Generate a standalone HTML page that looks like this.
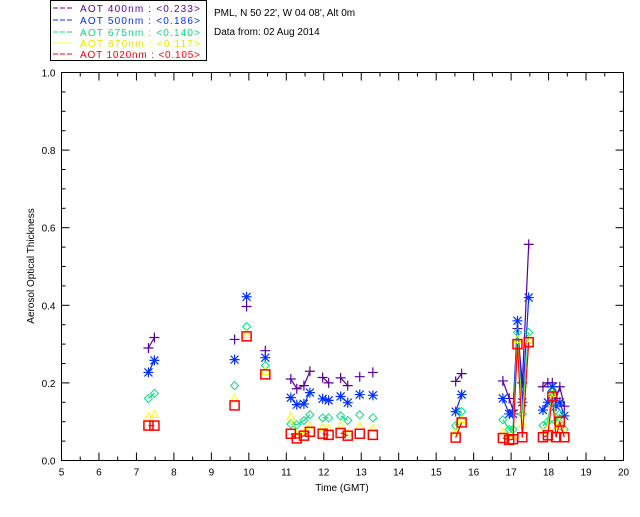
<!DOCTYPE html>
<html><head><meta charset="utf-8"><style>
body{margin:0;background:#fff;}
svg text{font-family:"Liberation Sans",sans-serif;font-size:10px;}
</style></head><body>
<svg id="chart" width="640" height="512" xmlns="http://www.w3.org/2000/svg">
<rect width="640" height="512" fill="#fff"/>
<g>
<rect x="50.5" y="0.5" width="156" height="60" fill="none" stroke="#000"/>
<g><line x1="53" y1="8" x2="73" y2="8" stroke="#5a00a0" stroke-dasharray="5,2"/><text x="80" y="12" fill="#5a00a0" textLength="120" lengthAdjust="spacing">AOT  400nm : &lt;0.233&gt;</text></g>
<g><line x1="53" y1="20" x2="73" y2="20" stroke="#0030ff" stroke-dasharray="5,2"/><text x="80" y="24" fill="#0030ff" textLength="120" lengthAdjust="spacing">AOT  500nm : &lt;0.186&gt;</text></g>
<g><line x1="53" y1="32" x2="73" y2="32" stroke="#00e080" stroke-dasharray="5,2"/><text x="80" y="36" fill="#00e080" textLength="120" lengthAdjust="spacing">AOT  675nm : &lt;0.140&gt;</text></g>
<g><line x1="53" y1="43" x2="73" y2="43" stroke="#ffff00" stroke-dasharray="5,2"/><text x="80" y="47" fill="#e8e800" textLength="120" lengthAdjust="spacing">AOT  870nm : &lt;0.117&gt;</text></g>
<g><line x1="53" y1="54" x2="73" y2="54" stroke="#ff0000" stroke-dasharray="5,2"/><text x="80" y="58" fill="#ff0000" textLength="120" lengthAdjust="spacing">AOT 1020nm : &lt;0.105&gt;</text></g>
</g>
<text x="214" y="16">PML, N 50 22', W 04 08', Alt 0m</text>
<text x="214" y="35">Data from: 02 Aug 2014</text>
<rect x="61.5" y="72.5" width="562" height="388" fill="none" stroke="#000"/>
<g id="axes"></g>
<g id="series"></g>
<text transform="translate(34,266) rotate(-90)" text-anchor="middle" font-size="9">Aerosol Optical Thickness</text>
<text x="342" y="491" text-anchor="middle">Time (GMT)</text>
</svg>
<script>
const times = [7.32,7.48, 9.62,9.94,10.44, 11.12,11.28,11.47,11.63,11.97,12.13,12.45,12.64,12.96,13.31, 15.52,15.68, 16.78,16.95,17.05,17.17,17.3,17.47,17.85,17.98,18.1,18.2,18.3,18.42];
const aot400 = [0.29,0.317, 0.312,0.397,0.283, 0.21,0.185,0.193,0.23,0.214,0.2,0.213,0.193,0.216,0.227, 0.204,0.224, 0.205,0.16,0.13,0.34,0.2,0.557,0.19,0.2,0.2,0.16,0.19,0.14];
const aot500 = [0.227,0.258, 0.26,0.422,0.265, 0.162,0.144,0.146,0.175,0.159,0.155,0.165,0.149,0.17,0.168, 0.126,0.17, 0.16,0.12,0.12,0.36,0.15,0.42,0.13,0.15,0.19,0.14,0.15,0.115];
const aot675 = [0.16,0.173, 0.193,0.345,0.245, 0.094,0.092,0.103,0.118,0.11,0.11,0.115,0.103,0.118,0.11, 0.09,0.126, 0.105,0.08,0.08,0.33,0.12,0.33,0.09,0.1,0.175,0.1,0.12,0.08];
const aot870 = [0.11,0.116, 0.157,0.322,0.227, 0.11,0.064,0.073,0.086,0.082,0.08,0.086,0.069,0.086,0.08, 0.07,0.103, 0.07,0.06,0.06,0.31,0.09,0.31,0.07,0.08,0.17,0.08,0.1,0.07];
const aot1020 = [0.09,0.09, 0.142,0.32,0.222, 0.069,0.057,0.064,0.074,0.069,0.066,0.071,0.064,0.069,0.066, 0.059,0.098, 0.058,0.053,0.055,0.3,0.06,0.305,0.06,0.065,0.165,0.06,0.1,0.06];
const xTicks = [5,6,7,8,9,10,11,12,13,14,15,16,17,18,19,20];
const yTicks = ["0.0","0.2","0.4","0.6","0.8","1.0"];

const NS="http://www.w3.org/2000/svg";
const X0=61.5,X1=623.5,Y0=460.5,Y1=72.5;
function xs(h){return X0+(h-5)/15*(X1-X0);}
function ys(v){return Y0-v*(Y0-Y1);}
function mk(tag,attrs,parent){const e=document.createElementNS(NS,tag);for(const k in attrs)e.setAttribute(k,attrs[k]);parent.appendChild(e);return e;}
const axes=document.getElementById('axes');
xTicks.forEach(t=>{
  const x=xs(t);
  const l=mk('line',{x1:x,y1:Y0,x2:x,y2:Y0-8,stroke:'#000'},axes);
  
  
  const l2=mk('line',{x1:x,y1:Y1,x2:x,y2:Y1+8,stroke:'#000'},axes);
  
  
  const tx=mk('text',{x:x,y:Y0+15,'text-anchor':'middle'},axes);tx.textContent=t;
  
  
  if(t<20){const m=xs(t+0.5);
    const ml=mk('line',{x1:m,y1:Y0,x2:m,y2:Y0-4,stroke:'#000'},axes);
    
    
    const ml2=mk('line',{x1:m,y1:Y1,x2:m,y2:Y1+4,stroke:'#000'},axes);
    
    }
});
yTicks.forEach(t=>{
  const v=parseFloat(t),y=ys(v);
  const l=mk('line',{x1:X0,y1:y,x2:X0+8,y2:y,stroke:'#000'},axes);
  
  
  const l2=mk('line',{x1:X1,y1:y,x2:X1-8,y2:y,stroke:'#000'},axes);
  
  
  const tx=mk('text',{x:X0-6,y:y+4,'text-anchor':'end'},axes);tx.textContent=t;
  
  
  if(v<1){for(let k=1;k<4;k++){const yy=ys(v+k*0.05);
    const ml=mk('line',{x1:X0,y1:yy,x2:X0+4,y2:yy,stroke:'#000'},axes);
    
    
    const ml2=mk('line',{x1:X1,y1:yy,x2:X1-4,y2:yy,stroke:'#000'},axes);
    
    }}
});
const seriesDefs=[
 {name:'aot-400',vals:aot400,col:'#5a00a0',m:'plus'},
 {name:'aot-500',vals:aot500,col:'#0030ff',m:'star'},
 {name:'aot-675',vals:aot675,col:'#00e080',m:'diamond'},
 {name:'aot-870',vals:aot870,col:'#ffff00',m:'tri'},
 {name:'aot-1020',vals:aot1020,col:'#ff0000',m:'square'}];
const sg=document.getElementById('series');
seriesDefs.forEach(s=>{
  const g=mk('g',{},sg);
  
  
  for(let i=1;i<times.length;i++){
    if(times[i]-times[i-1]<0.25){
      const l=mk('line',{x1:xs(times[i-1]),y1:ys(s.vals[i-1]),x2:xs(times[i]),y2:ys(s.vals[i]),stroke:s.col,'stroke-width':1.2},g);
      
      
    }
  }
  times.forEach((t,i)=>{
    const x=xs(t),y=ys(s.vals[i]);let e;
    if(s.m==='plus') e=mk('path',{d:`M${x-5},${y}H${x+5}M${x},${y-5}V${y+5}`,stroke:s.col,'stroke-width':1.2,fill:'none'},g);
    else if(s.m==='star') e=mk('path',{d:`M${x-5},${y}H${x+5}M${x},${y-5}V${y+5}M${x-4},${y-4}L${x+4},${y+4}M${x-4},${y+4}L${x+4},${y-4}`,stroke:s.col,'stroke-width':1.2,fill:'none'},g);
    else if(s.m==='diamond') e=mk('path',{d:`M${x},${y-4}L${x+4},${y}L${x},${y+4}L${x-4},${y}Z`,stroke:s.col,fill:'none'},g);
    else if(s.m==='tri') e=mk('path',{d:`M${x},${y-5}L${x+4},${y+2}L${x-4},${y+2}Z`,stroke:s.col,fill:'none'},g);
    else e=mk('rect',{x:x-4.5,y:y-4.5,width:9,height:9,stroke:s.col,'stroke-width':1.5,fill:'none'},g);
    
    
  });
});
</script>
</body></html>
